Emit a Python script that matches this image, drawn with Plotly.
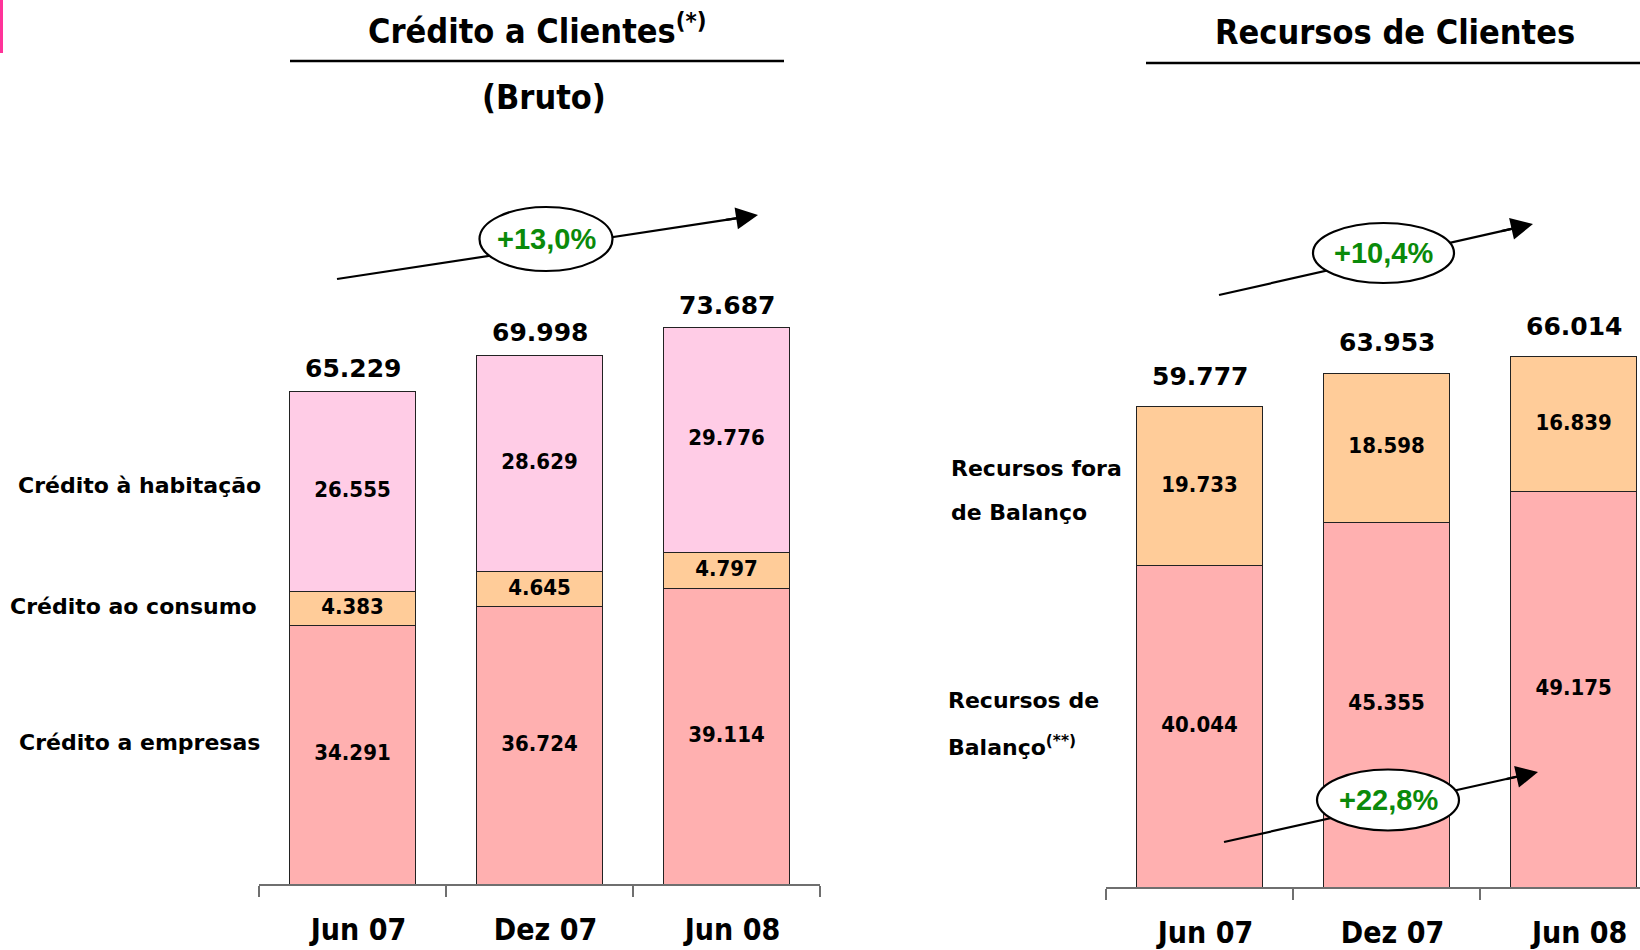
import plotly.graph_objects as go

# ---------------- data ----------------
categories = ["Jun 07", "Dez 07", "Jun 08"]
credito_empresas = [34291, 36724, 39114]
credito_consumo = [4383, 4645, 4797]
credito_habitacao = [26555, 28629, 29776]
recursos_balanco = [40044, 45355, 49175]
recursos_fora = [19733, 18598, 16839]

W, H = 1640, 950
def px(x):
    return x / W
def py(y):
    return 1 - y / H

C_EMP = "#FFB0B0"
C_CONS = "#FFCC99"
C_HAB = "#FFCCE6"
OUTLINE = "#222222"
COND = "DejaVu Sans Condensed, Liberation Sans Narrow, sans-serif"
SANS = "DejaVu Sans, Verdana, sans-serif"
ARIAL = "Liberation Sans, Arial, sans-serif"
GREEN = "#0A8A0A"

def fmt(v):
    return f"{v:,}".replace(",", ".")

def pct(a, b):
    return ("+" + f"{(b / a - 1) * 100:.1f}%").replace(".", ",")

fig = go.Figure()

def add_stack(series_list, colors, xa, ya):
    base = [0] * len(categories)
    for vals, col in zip(series_list, colors):
        fig.add_trace(go.Bar(
            x=categories, y=vals, marker=dict(color=col, line=dict(color=OUTLINE, width=1)),
            width=0.67, xaxis=xa, yaxis=ya, showlegend=False, hoverinfo="skip"))
        mids = [b + v / 2 for b, v in zip(base, vals)]
        fig.add_trace(go.Scatter(
            x=categories, y=mids, mode="text", text=[f"<b>{fmt(v)}</b>" for v in vals],
            textposition="middle center", textfont=dict(family=COND, size=22, color="black"),
            xaxis=xa, yaxis=ya, showlegend=False, hoverinfo="skip", cliponaxis=False))
        base = [b + v for b, v in zip(base, vals)]
    return base

tot_left = add_stack([credito_empresas, credito_consumo, credito_habitacao],
                     [C_EMP, C_CONS, C_HAB], "x", "y")
tot_right = add_stack([recursos_balanco, recursos_fora], [C_EMP, C_CONS], "x2", "y2")

annotations = []
for c, t in zip(categories, tot_left):
    annotations.append(dict(x=c, y=t, xref="x", yref="y", xanchor="center", yanchor="bottom", yshift=6,
                            text=f"<b>{fmt(t)}</b>", showarrow=False,
                            font=dict(family=SANS, size=25, color="black")))
for c, t in zip(categories, tot_right):
    annotations.append(dict(x=c, y=t, xref="x2", yref="y2", xanchor="center", yanchor="bottom", yshift=14,
                            text=f"<b>{fmt(t)}</b>", showarrow=False,
                            font=dict(family=SANS, size=25, color="black")))

# titles
for txt, x, y in [("Crédito a Clientes<sup>(*)</sup>", 537, 29), ("(Bruto)", 544, 97),
                  ("Recursos de Clientes", 1395, 32)]:
    annotations.append(dict(x=px(x), y=py(y), xref="paper", yref="paper", showarrow=False,
                            xanchor="center", yanchor="middle", text=f"<b>{txt}</b>",
                            font=dict(family=COND, size=34, color="black")))

# side labels
for txt, x, y in [("Crédito à habitação", 139, 486), ("Crédito ao consumo", 133, 606),
                  ("Crédito a empresas", 139, 742)]:
    annotations.append(dict(x=px(x), y=py(y), xref="paper", yref="paper", showarrow=False,
                            xanchor="center", yanchor="middle",
                            text=f"<b>{txt}</b>", font=dict(family=SANS, size=22, color="black")))
for txt, x, y in [("Recursos fora", 949, 469), ("de Balanço", 949, 512),
                  ("Recursos de", 946, 700), ("Balanço<sup>(**)</sup>", 946, 746)]:
    annotations.append(dict(x=px(x), y=py(y), xref="paper", yref="paper", showarrow=False,
                            xanchor="left", yanchor="middle", text=f"<b>{txt}</b>",
                            font=dict(family=SANS, size=22, color="black")))

shapes = [
    dict(type="line", xref="paper", yref="paper", x0=px(290), x1=px(784), y0=py(61), y1=py(61),
         line=dict(color="black", width=2.5)),
    dict(type="line", xref="paper", yref="paper", x0=px(1146), x1=px(1640), y0=py(63), y1=py(63),
         line=dict(color="black", width=2.5)),
    dict(type="line", xref="paper", yref="paper", x0=px(1.5), x1=px(1.5), y0=py(0), y1=py(53),
         line=dict(color="#FF3399", width=3)),
]

# growth bubbles with arrows
bubbles = [
    (pct(tot_left[0], tot_left[-1]), (337, 279), (758, 215), (546, 239), 66.5, 32),
    (pct(tot_right[0], tot_right[-1]), (1219, 295), (1533, 224), (1383.5, 253), 70.5, 30),
    (pct(recursos_balanco[0], recursos_balanco[-1]), (1224, 842), (1538, 772), (1388, 800), 71, 30.5),
]
for label, tail, tip, ctr, rx, ry in bubbles:
    dx, dy = tip[0] - tail[0], tip[1] - tail[1]
    L = (dx ** 2 + dy ** 2) ** 0.5
    ux, uy = dx / L, dy / L
    end = (tip[0] - ux * 14, tip[1] - uy * 14)
    shapes.append(dict(type="line", xref="paper", yref="paper", layer="above",
                       x0=px(tail[0]), y0=py(tail[1]), x1=px(end[0]), y1=py(end[1]),
                       line=dict(color="black", width=2.2)))
    shapes.append(dict(type="circle", xref="paper", yref="paper", layer="above",
                       x0=px(ctr[0] - rx), x1=px(ctr[0] + rx), y0=py(ctr[1] + ry), y1=py(ctr[1] - ry),
                       fillcolor="white", line=dict(color="black", width=2.2)))
    annotations.append(dict(x=px(tip[0]), y=py(tip[1]), xref="paper", yref="paper",
                            ax=-ux * 34, ay=-uy * 34, text="", showarrow=True,
                            arrowhead=2, arrowsize=2.0, arrowwidth=2.2, arrowcolor="black"))
    annotations.append(dict(x=px(ctr[0]), y=py(ctr[1]), xref="paper", yref="paper", showarrow=False,
                            xanchor="center", yanchor="middle",
                            text=f"<b>{label}</b>", font=dict(family=ARIAL, size=29, color=GREEN)))

axis_common = dict(type="category", showline=True, linecolor="#6f6f6f", linewidth=1.5,
                   ticks="outside", tickson="boundaries", ticklen=11, tickcolor="#6f6f6f", tickwidth=1.5,
                   tickfont=dict(family=COND, size=30, color="black", weight="bold"),
                   ticklabelstandoff=18, ticklabelshift=6,
                   showgrid=False, zeroline=False, fixedrange=True)

fig.update_layout(
    width=W, height=H, margin=dict(l=0, r=0, t=0, b=0),
    paper_bgcolor="white", plot_bgcolor="white", barmode="stack", bargap=0.33,
    xaxis=dict(domain=[px(259), px(820)], range=[-0.5, 2.5], anchor="y", **axis_common),
    yaxis=dict(domain=[py(884), py(100)], range=[0, 103813], visible=False, anchor="x"),
    xaxis2=dict(domain=[px(1106), 1.0], range=[-0.5, 2.355], anchor="y2", **axis_common),
    yaxis2=dict(domain=[py(887), py(100)], range=[0, 97971], visible=False, anchor="x2"),
    annotations=annotations, shapes=shapes,
)

fig.write_html("out.html", config={"displayModeBar": False},
               post_script="document.body.style.margin='0px';document.body.style.padding='0px';")
